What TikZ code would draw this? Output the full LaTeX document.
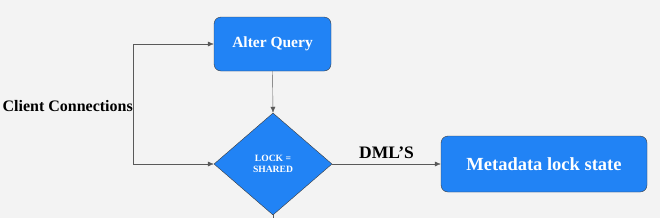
\documentclass[tikz,border=0pt]{standalone}
\usepackage{fontspec}
\setmainfont{Liberation Serif}
\usetikzlibrary{shapes.geometric,arrows.meta}
\definecolor{boxblue}{RGB}{33,131,245}
\definecolor{bggray}{RGB}{243,243,243}
\definecolor{edgegray}{RGB}{60,60,60}
\begin{document}
\begin{tikzpicture}[x=1pt, y=-1pt,
        stepbox/.style = {draw=edgegray, fill=boxblue, rounded corners=7pt, text=white,
            font=\bfseries\fontsize{15.5}{17}\selectfont, inner sep=0pt},
        decision/.style = {diamond, draw=edgegray, fill=boxblue, text=white, inner sep=0pt,
            minimum width=118pt, minimum height=102pt, align=center,
            font=\bfseries\fontsize{9.6}{11}\selectfont},
        flow/.style = {draw=black!65, -{Latex[length=6pt, width=5pt]}},
        tag/.style = {font=\bfseries\fontsize{16}{18}\selectfont, inner sep=0pt}]
        \fill[bggray] (0, 0) rectangle (660, 218);
        \useasboundingbox (0, 0) rectangle (660, 218);
        \node[stepbox, minimum width=117pt, minimum height=54pt] (alter) at (272.5, 44) {Alter Query};
        \node[decision] (lock) at (273, 164) {LOCK =\\SHARED};
        \node[stepbox, minimum width=206pt, minimum height=56pt,
            font=\bfseries\fontsize{18.5}{20}\selectfont] (meta) at (544, 164) {Metadata lock state};
        \node[tag, anchor=east] (client) at (133, 106) {Client Connections};
        \coordinate (top) at (133, 44);
        \coordinate (bottom) at (133, 164);
        \coordinate (exit) at (273, 218);
        \draw[black!65] (top) -- (bottom);
        \draw[flow] (top) -- (alter.west);
        \draw[flow] (bottom) -- (lock.west);
        \draw[flow] (alter.south) -- (lock.north);
        \draw[flow] (lock.east) -- node[tag, above=5pt, font=\bfseries\fontsize{17.5}{19}\selectfont] (dml) {DML’S} (meta.west);
        \draw[black!65] (lock.south) -- (exit);
    \end{tikzpicture}
\end{document}
